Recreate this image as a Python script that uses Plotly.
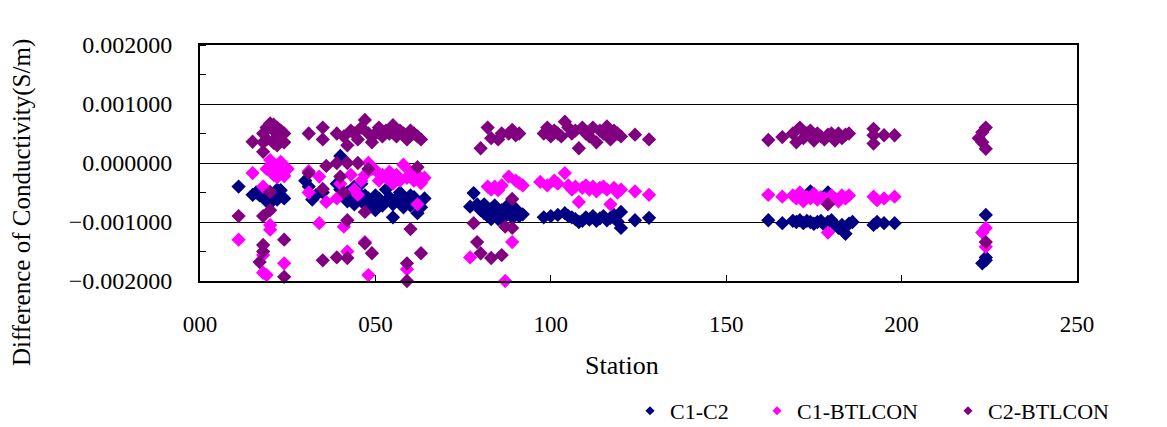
import plotly.graph_objects as go

# ---------------- data ----------------
c1c2_station = [11, 15, 16, 17, 18, 19, 19, 20, 20, 21, 22, 22, 23, 24,
                30, 31, 32, 33, 35, 39, 40, 40, 41, 42, 42, 43, 44, 44, 45, 46, 46, 47, 48, 48,
                49, 50, 50, 51, 52, 53, 53, 54, 55, 55, 56, 57, 57, 58, 59, 60, 60, 61, 62, 62, 63, 64,
                77, 78, 79, 80, 81, 81, 82, 83, 83, 84, 84, 85, 86, 86, 87, 88, 88, 89, 90, 90, 91, 92,
                98, 100, 102, 104, 105, 106, 107, 108, 109, 110, 111, 112, 113, 114, 115, 116, 117,
                118, 119, 120, 120, 124, 128,
                162, 166, 169, 170, 171, 172, 173, 174, 174, 175, 176, 177, 178, 179, 179, 180, 181,
                182, 183, 184, 185, 186, 192, 193, 195, 198,
                224, 224, 224, 223]
c1c2_value = [-0.00040, -0.00054, -0.00050, -0.00055, -0.00058, -0.00050, -0.00065, -0.00068, -0.00052,
              -0.00060, -0.00045, -0.00062, -0.00046, -0.00060,
              -0.00030, -0.00040, -0.00062, -0.00055, -0.00050, -0.00035, 0.00012, -0.00045, -0.00055,
              -0.00050, -0.00065, -0.00060, -0.00040, -0.00070, -0.00050, -0.00065, -0.00035, -0.00055,
              -0.00060, -0.00075,
              -0.00070, -0.00055, -0.00080, -0.00060, -0.00072, -0.00065, -0.00045, -0.00058, -0.00092,
              -0.00070, -0.00060, -0.00068, -0.00050, -0.00075, -0.00062, -0.00072, -0.00055, -0.00058,
              -0.00065, -0.00085, -0.00075, -0.00060,
              -0.00074, -0.00051, -0.00070, -0.00080, -0.00085, -0.00070, -0.00090, -0.00078, -0.00095,
              -0.00088, -0.00072, -0.00095, -0.00080, -0.00095, -0.00090, -0.00085, -0.00070, -0.00092,
              -0.00088, -0.00078, -0.00090, -0.00087,
              -0.00092, -0.00090, -0.00088, -0.00085, -0.00090, -0.00092, -0.00095, -0.00100, -0.00098,
              -0.00092, -0.00096, -0.00090, -0.00098, -0.00094, -0.00090, -0.00097, -0.00093,
              -0.00088, -0.00099, -0.00083, -0.00110, -0.00097, -0.00093,
              -0.00097, -0.00102, -0.00098, -0.00100, -0.00097, -0.00102, -0.00098, -0.00048, -0.00100,
              -0.00103, -0.00100, -0.00098, -0.00105, -0.00050, -0.00100, -0.00097, -0.00105,
              -0.00110, -0.00105, -0.00120, -0.00103, -0.00100, -0.00105, -0.00100, -0.00102, -0.00102,
              -0.00088, -0.00160, -0.00165, -0.00170]

c1bt_station = [11, 15, 18, 18, 18, 19, 19, 20, 20, 20, 21, 21, 22, 22, 23, 23, 24, 24, 25,
                31, 31, 34, 34, 36, 39, 40, 41, 42, 43, 44, 45, 46, 47, 47, 48, 48, 49, 50, 51,
                52, 53, 54, 55, 56, 57, 58, 59, 59, 60, 61, 62, 62, 63, 64,
                77, 82, 83, 84, 85, 86, 87, 88, 89, 90, 91, 92,
                97, 99, 101, 102, 104, 105, 106, 107, 108, 109, 110, 111, 112, 113, 114, 115, 116,
                117, 118, 119, 120, 124, 128,
                162, 166, 169, 170, 171, 172, 173, 174, 175, 176, 177, 178, 179, 180, 181, 182,
                183, 184, 185, 192, 193, 195, 198,
                224, 223, 224]
c1bt_value = [-0.00130, -0.00017, -0.00040, -0.00156, -0.00186, -0.00010, -0.00190, 0.00005, -0.00105,
              -0.00113, -0.00020, -0.00005, -0.00010, -0.00024, -0.00015, 0.00002, -0.00022, -0.00170,
              -0.00010,
              -0.00014, -0.00050, -0.00023, -0.00102, -0.00066, -0.00060, -0.00035, -0.00108, -0.00150,
              -0.00020, -0.00045, -0.00054, -0.00030, -0.00134, -0.00020, 0.00000, -0.00190, -0.00010,
              -0.00012, -0.00030,
              -0.00020, -0.00025, -0.00015, -0.00035, -0.00020, -0.00030, -0.00003, -0.00025, -0.00180,
              -0.00015, -0.00030, -0.00070, -0.00020, -0.00034, -0.00025,
              -0.00160, -0.00040, -0.00045, -0.00040, -0.00046, -0.00038, -0.00200, -0.00023, -0.00134,
              -0.00030, -0.00034, -0.00038,
              -0.00032, -0.00038, -0.00030, -0.00035, -0.00017, -0.00038, -0.00045, -0.00040, -0.00066,
              -0.00042, -0.00038, -0.00045, -0.00040, -0.00048, -0.00042, -0.00040, -0.00045,
              -0.00070, -0.00042, -0.00050, -0.00045, -0.00048, -0.00054,
              -0.00054, -0.00057, -0.00055, -0.00060, -0.00050, -0.00065, -0.00058, -0.00060, -0.00052,
              -0.00062, -0.00058, -0.00060, -0.00118, -0.00055, -0.00060, -0.00065,
              -0.00055, -0.00060, -0.00055, -0.00057, -0.00063, -0.00060, -0.00057,
              -0.00110, -0.00118, -0.00142]

c2bt_station = [11, 15, 17, 18, 18, 18, 18, 18, 18, 19, 19, 20, 20, 20, 21, 21, 21, 22, 22, 22,
                23, 23, 24, 24, 24, 24,
                31, 31, 35, 35, 35, 35, 36, 39, 39, 39, 40, 41, 41, 42, 42, 42, 42, 43, 44, 45, 45,
                46, 47, 47, 47, 48, 48, 49, 49, 50, 51, 52, 53, 54, 55, 56, 57, 58, 59, 59, 59,
                60, 60, 61, 62, 62, 63, 63,
                78, 79, 80, 80, 82, 83, 83, 85, 86, 86, 87, 88, 89, 89, 89, 90, 91,
                98, 99, 100, 101, 102, 103, 104, 105, 106, 107, 108, 109, 110, 111, 112, 113, 114,
                115, 116, 117, 118, 119, 120, 124, 128,
                162, 166, 169, 170, 171, 172, 173, 174, 175, 176, 177, 178, 179, 179, 180, 181, 182,
                183, 184, 185, 192, 192, 192, 195, 198,
                224, 223, 222, 223, 224, 224]
c2bt_value = [-0.00090, 0.00036, -0.00168, 0.00050, 0.00035, 0.00019, -0.00090, -0.00139, -0.00150,
              0.00060, 0.00040, 0.00067, -0.00080, -0.00049, 0.00055, 0.00065, 0.00034, 0.00060,
              0.00045, 0.00030,
              0.00040, 0.00055, 0.00050, 0.00035, -0.00130, -0.00193,
              0.00050, -0.00017, 0.00060, 0.00040, -0.00044, -0.00165, -0.00005, 0.00050, 0.00000,
              -0.00160, -0.00023, 0.00045, -0.00050, 0.00030, 0.00000, -0.00097, -0.00161, 0.00055,
              0.00050, 0.00040, 0.00000,
              0.00060, 0.00073, -0.00083, -0.00136, 0.00050, -0.00010, 0.00035, -0.00153, 0.00050,
              0.00060, 0.00045, 0.00055, 0.00050, 0.00064, 0.00045, 0.00055, 0.00050, 0.00040,
              -0.00170, -0.00200,
              0.00055, -0.00112, 0.00050, 0.00045, -0.00007, 0.00040, -0.00153,
              -0.00102, -0.00134, 0.00025, -0.00153, 0.00060, 0.00042, -0.00161, 0.00040, 0.00050,
              -0.00156, -0.00108, 0.00050, 0.00056, -0.00061, -0.00110, 0.00047, 0.00050,
              0.00050, 0.00060, 0.00045, 0.00055, 0.00050, 0.00045, 0.00070, 0.00060, 0.00050,
              0.00055, 0.00025, 0.00060, 0.00050, 0.00045, 0.00060, 0.00035, 0.00055,
              0.00050, 0.00062, 0.00040, 0.00055, 0.00050, 0.00045, 0.00048, 0.00040,
              0.00039, 0.00044, 0.00050, 0.00035, 0.00060, 0.00042, 0.00050, 0.00055, 0.00038,
              0.00050, 0.00045, 0.00040, 0.00048, -0.00070, 0.00050, 0.00038, 0.00050,
              0.00042, 0.00048, 0.00050, 0.00058, 0.00033, 0.00047, 0.00047, 0.00047,
              0.00060, 0.00052, 0.00042, 0.00035, 0.00024, -0.00134]

series_names = ["C1-C2", "C1-BTLCON", "C2-BTLCON"]
series_colors = ["#000080", "#FF00FF", "#800080"]

x_ticks = [0, 50, 100, 150, 200, 250]
y_ticks = [-0.002, -0.001, 0.0, 0.001, 0.002]

FONT = "Liberation Serif"
# the page shows the figure offset by the body margin (8 px)
OFF = 8
W, H = 1167 - OFF, 427 - OFF

fig = go.Figure()
data = [(c1c2_station, c1c2_value), (c1bt_station, c1bt_value), (c2bt_station, c2bt_value)]
for (xs, ys), name, color in zip(data, series_names, series_colors):
    fig.add_trace(go.Scatter(
        x=xs, y=ys, mode="markers", name=name, showlegend=False,
        marker=dict(symbol="diamond", size=11, color=color, line=dict(width=0)),
        cliponaxis=False,
    ))

legend_ids = ["legend", "legend2", "legend3"]
legend_marker_x = [650, 777, 968]
for name, color, lid in zip(series_names, series_colors, legend_ids):
    fig.add_trace(go.Scatter(
        x=[None], y=[None], mode="markers", name=name, legend=lid, showlegend=True,
        marker=dict(symbol="diamond", size=7, color=color, line=dict(width=0)),
    ))

legend_common = dict(orientation="h", xref="container", yref="container",
                     xanchor="left", yanchor="middle", y=(H - (411 - OFF)) / H,
                     font=dict(family=FONT, size=22, color="black"),
                     bgcolor="rgba(0,0,0,0)", borderwidth=0)

layout_legends = {}
for lid, mx in zip(legend_ids, legend_marker_x):
    layout_legends[lid] = dict(legend_common, x=(mx - 20 - OFF) / W)

fig.update_layout(
    width=W, height=H,
    margin=dict(l=200 - OFF, r=90, t=45 - OFF, b=146, autoexpand=False),
    paper_bgcolor="white", plot_bgcolor="white",
    font=dict(family=FONT, size=22, color="black"),
    **layout_legends,
    xaxis=dict(range=[0, 250], tickvals=x_ticks, tickformat="03d",
               ticks="inside", ticklen=6, tickcolor="black", tickwidth=1,
               showline=True, linecolor="black", linewidth=2, mirror=True,
               showgrid=False, zeroline=False,
               tickfont=dict(family=FONT, size=23, color="black"),
               ticklabelstandoff=21),
    yaxis=dict(range=[-0.002, 0.002], tickvals=y_ticks, tickformat=".6f",
               ticks="", showline=True, linecolor="black", linewidth=2, mirror=True,
               showgrid=True, gridcolor="black", gridwidth=1, zeroline=False,
               minor=dict(dtick=0.0005, ticks="inside", ticklen=6, tickcolor="black", showgrid=False),
               tickfont=dict(family=FONT, size=24, color="black"),
               ticklabelstandoff=21),
    annotations=[
        dict(text="Station", xref="paper", yref="paper", x=(622 - 200) / 877, y=(281 - 365) / 236,
             xanchor="center", yanchor="middle", showarrow=False,
             font=dict(family=FONT, size=26, color="black")),
        dict(text="Difference of Conductivity(S/m)", xref="paper", yref="paper",
             x=(22 - 200) / 877, y=(281 - 203) / 236, textangle=-90,
             xanchor="center", yanchor="middle", showarrow=False,
             font=dict(family=FONT, size=25, color="black")),
    ],
)

fig.write_html("out.html")
